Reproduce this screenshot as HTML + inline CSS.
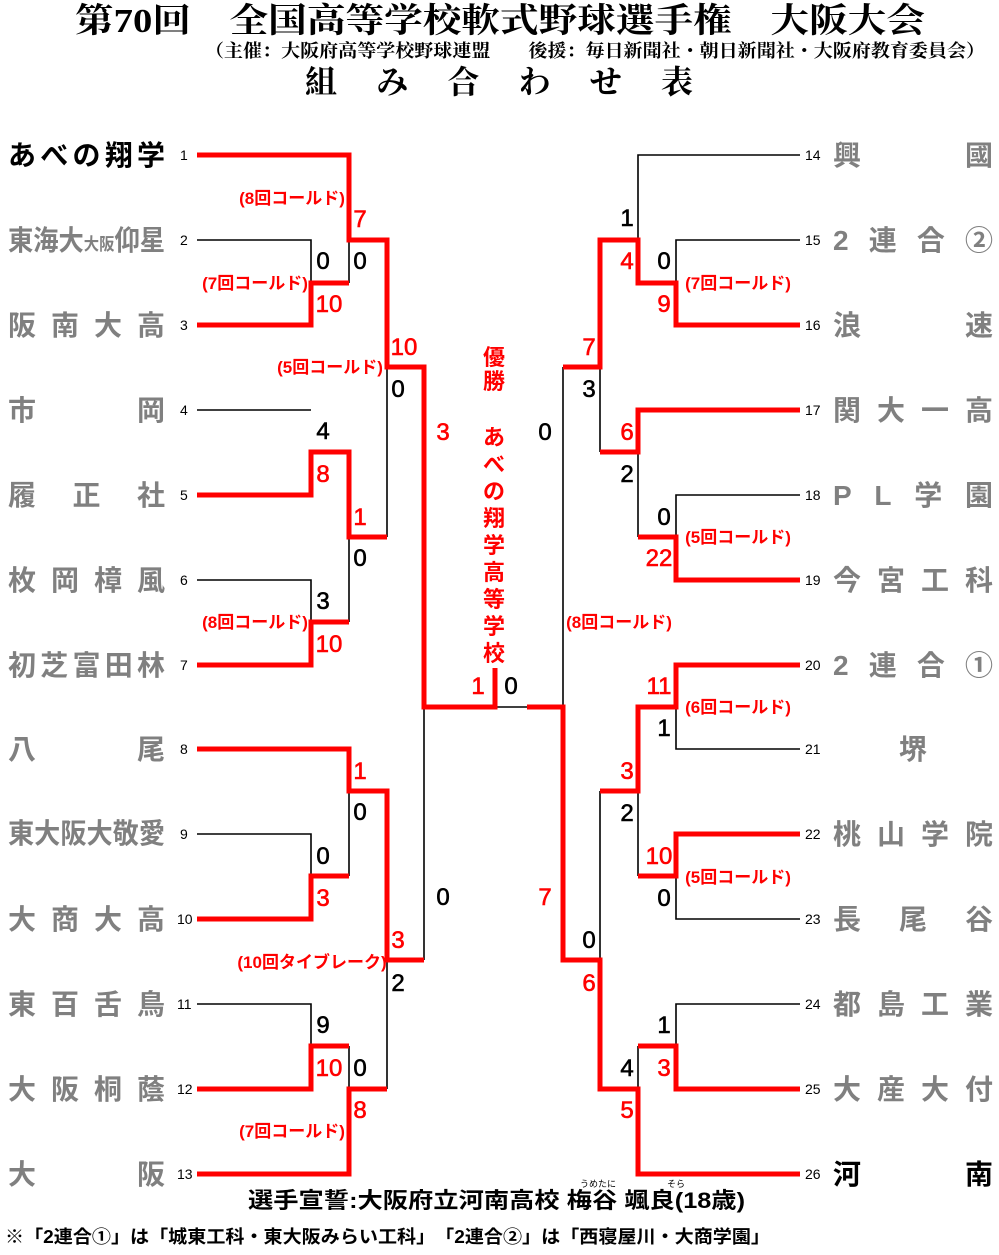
<!DOCTYPE html>
<html><head><meta charset="utf-8">
<style>
html,body{margin:0;padding:0;background:#fff;}
svg{display:block;}
.t{font-family:"Liberation Serif","Noto Serif CJK SC",serif;font-weight:bold;}
.s{font-family:"Liberation Sans","Noto Sans CJK JP",sans-serif;}
.nm{font-family:"Liberation Sans","Noto Sans CJK JP",sans-serif;font-weight:bold;font-size:28px;fill:#808080;}
.num{font-family:"Liberation Sans",sans-serif;font-size:14px;fill:#000;}
.sc{font-family:"Liberation Sans",sans-serif;font-size:24px;text-anchor:middle;stroke-width:0.6px;}
.r{fill:#f00;stroke:#f00;}
.k{fill:#000;stroke:#000;}
.cd{font-family:"Liberation Sans","Noto Sans CJK JP",sans-serif;font-weight:bold;font-size:17px;fill:#f00;text-anchor:middle;}
</style></head><body>
<svg width="999" height="1255" viewBox="0 0 999 1255" xmlns="http://www.w3.org/2000/svg">
<text class="t" x="75" y="32" font-size="34" textLength="850" lengthAdjust="spacingAndGlyphs">第70回　全国高等学校軟式野球選手権　大阪大会</text>
<text class="t" x="205" y="57" font-size="18" textLength="780" lengthAdjust="spacingAndGlyphs">（主催：大阪府高等学校野球連盟　　後援：毎日新聞社・朝日新聞社・大阪府教育委員会）</text>
<text class="t" x="305" y="93" font-size="32" textLength="388" lengthAdjust="spacing">組み合わせ表</text>

<g stroke="#000" stroke-width="1.6" fill="none">
<path d="M197 240H311V283"/>
<path d="M349 240V283"/>
<path d="M197 410H311"/>
<path d="M387 367V537"/>
<path d="M197 580H311V622"/>
<path d="M349 537V622"/>
<path d="M197 834H311V876"/>
<path d="M349 791V876"/>
<path d="M424 707V960"/>
<path d="M387 960V1089"/>
<path d="M197 1004H311V1046"/>
<path d="M349 1046V1089"/>
<path d="M495 707H527"/>
<path d="M563 367V707"/>
<path d="M800 155H638V240"/>
<path d="M800 240H676V283"/>
<path d="M600 367V452"/>
<path d="M638 452V537"/>
<path d="M800 495H676V537"/>
<path d="M800 749H676V707"/>
<path d="M600 791V960"/>
<path d="M638 791V876"/>
<path d="M800 919H676V876"/>
<path d="M800 1004H676V1046"/>
<path d="M638 1046V1089"/>
</g>
<g stroke="#f00" stroke-width="5" fill="none" stroke-linejoin="miter">
<path d="M197 155H349V240H387V367H424V707H495V668"/>
<path d="M197 325H311V283H349"/>
<path d="M197 495H311V452H349V537H387"/>
<path d="M197 665H311V622H349"/>
<path d="M197 749H349V791H387V960H424"/>
<path d="M197 919H311V876H349"/>
<path d="M197 1089H311V1046H349"/>
<path d="M197 1174H349V1089H387"/>
<path d="M527 707H563V960H600V1089H638V1174H800"/>
<path d="M800 325H676V283H638V240H600V367H563"/>
<path d="M800 410H638V452H600"/>
<path d="M800 580H676V537H638"/>
<path d="M800 665H676V707H638V791H600"/>
<path d="M800 834H676V876H638"/>
<path d="M800 1089H676V1046H638"/>
</g>

<text class="nm" x="8" y="165" style="fill:#000" textLength="157" lengthAdjust="spacing">あべの翔学</text>
<text class="nm" x="8" y="250" font-size="22" textLength="157" lengthAdjust="spacingAndGlyphs"><tspan>東海大</tspan><tspan font-size="17">大阪</tspan><tspan>仰星</tspan></text>
<text class="nm" x="8" y="335" textLength="157" lengthAdjust="spacing">阪南大高</text>
<text class="nm" x="8" y="420" textLength="157" lengthAdjust="spacing">市岡</text>
<text class="nm" x="8" y="505" textLength="157" lengthAdjust="spacing">履正社</text>
<text class="nm" x="8" y="590" textLength="157" lengthAdjust="spacing">枚岡樟風</text>
<text class="nm" x="8" y="675" textLength="157" lengthAdjust="spacing">初芝富田林</text>
<text class="nm" x="8" y="759" textLength="157" lengthAdjust="spacing">八尾</text>
<text class="nm" x="8" y="843" font-size="24" textLength="157" lengthAdjust="spacingAndGlyphs">東大阪大敬愛</text>
<text class="nm" x="8" y="929" textLength="157" lengthAdjust="spacing">大商大高</text>
<text class="nm" x="8" y="1014" textLength="157" lengthAdjust="spacing">東百舌鳥</text>
<text class="nm" x="8" y="1099" textLength="157" lengthAdjust="spacing">大阪桐蔭</text>
<text class="nm" x="8" y="1184" textLength="157" lengthAdjust="spacing">大阪</text>
<g class="num">
<text x="180" y="160">1</text><text x="180" y="245">2</text><text x="180" y="330">3</text><text x="180" y="415">4</text>
<text x="180" y="500">5</text><text x="180" y="585">6</text><text x="180" y="670">7</text><text x="180" y="754">8</text>
<text x="180" y="839">9</text><text x="177" y="924">10</text><text x="177" y="1009">11</text><text x="177" y="1094">12</text><text x="177" y="1179">13</text>
</g>
<g class="num">
<text x="805" y="160">14</text><text x="805" y="245">15</text><text x="805" y="330">16</text><text x="805" y="415">17</text>
<text x="805" y="500">18</text><text x="805" y="585">19</text><text x="805" y="670">20</text><text x="805" y="754">21</text>
<text x="805" y="839">22</text><text x="805" y="924">23</text><text x="805" y="1009">24</text><text x="805" y="1094">25</text><text x="805" y="1179">26</text>
</g>
<text class="nm" x="833" y="165" textLength="160" lengthAdjust="spacing">興國</text>
<text class="nm" x="833" y="250" textLength="160" lengthAdjust="spacing">2連合②</text>
<text class="nm" x="833" y="335" textLength="160" lengthAdjust="spacing">浪速</text>
<text class="nm" x="833" y="420" textLength="160" lengthAdjust="spacing">関大一高</text>
<text class="nm" x="833" y="505" textLength="160" lengthAdjust="spacing">PL学園</text>
<text class="nm" x="833" y="590" textLength="160" lengthAdjust="spacing">今宮工科</text>
<text class="nm" x="833" y="675" textLength="160" lengthAdjust="spacing">2連合①</text>
<text class="nm" x="913" y="759" text-anchor="middle">堺</text>
<text class="nm" x="833" y="844" textLength="160" lengthAdjust="spacing">桃山学院</text>
<text class="nm" x="833" y="929" textLength="160" lengthAdjust="spacing">長尾谷</text>
<text class="nm" x="833" y="1014" textLength="160" lengthAdjust="spacing">都島工業</text>
<text class="nm" x="833" y="1099" textLength="160" lengthAdjust="spacing">大産大付</text>
<text class="nm" x="833" y="1184" style="fill:#000" textLength="160" lengthAdjust="spacing">河南</text>

<g class="sc">
<text class="r" x="360" y="227">7</text><text class="k" x="323" y="269">0</text><text class="k" x="360" y="269">0</text><text class="r" x="329" y="312">10</text>
<text class="r" x="404" y="355">10</text><text class="k" x="398" y="397">0</text><text class="r" x="443" y="440">3</text>
<text class="k" x="323" y="439">4</text><text class="r" x="323" y="482">8</text><text class="r" x="360" y="525">1</text><text class="k" x="360" y="566">0</text>
<text class="k" x="323" y="609">3</text><text class="r" x="329" y="652">10</text>
<text class="r" x="360" y="779">1</text><text class="k" x="360" y="820">0</text><text class="k" x="323" y="864">0</text><text class="r" x="323" y="906">3</text>
<text class="r" x="398" y="948">3</text><text class="k" x="398" y="991">2</text><text class="k" x="443" y="905">0</text>
<text class="k" x="323" y="1033">9</text><text class="r" x="329" y="1076">10</text><text class="k" x="360" y="1076">0</text><text class="r" x="360" y="1118">8</text>
<text class="r" x="478" y="694">1</text><text class="k" x="511" y="694">0</text>
<text class="k" x="627" y="226">1</text><text class="r" x="627" y="269">4</text><text class="k" x="664" y="269">0</text><text class="r" x="664" y="312">9</text>
<text class="r" x="589" y="355">7</text><text class="k" x="589" y="397">3</text><text class="k" x="545" y="440">0</text>
<text class="r" x="627" y="440">6</text><text class="k" x="627" y="482">2</text><text class="k" x="664" y="525">0</text><text class="r" x="659" y="566">22</text>
<text class="r" x="659" y="694">11</text><text class="k" x="664" y="736">1</text><text class="r" x="627" y="779">3</text><text class="k" x="627" y="821">2</text>
<text class="r" x="659" y="864">10</text><text class="k" x="664" y="906">0</text><text class="r" x="545" y="905">7</text>
<text class="k" x="589" y="948">0</text><text class="r" x="589" y="991">6</text>
<text class="k" x="664" y="1033">1</text><text class="r" x="664" y="1076">3</text><text class="k" x="627" y="1076">4</text><text class="r" x="627" y="1118">5</text>
</g>

<g class="cd">
<text x="292" y="204">(8回コールド)</text>
<text x="255" y="289">(7回コールド)</text>
<text x="330" y="373">(5回コールド)</text>
<text x="255" y="628">(8回コールド)</text>
<text x="312" y="968">(10回タイブレーク)</text>
<text x="292" y="1137">(7回コールド)</text>
<text x="738" y="289">(7回コールド)</text>
<text x="738" y="543">(5回コールド)</text>
<text x="619" y="628">(8回コールド)</text>
<text x="738" y="713">(6回コールド)</text>
<text x="738" y="883">(5回コールド)</text>
</g>

<g font-family="'Liberation Sans','Noto Sans CJK JP',sans-serif" font-weight="bold" font-size="22" fill="#f00" text-anchor="middle">
<text x="494" y="365">優</text><text x="494" y="389">勝</text>
<text x="494" y="445">あ</text><text x="494" y="472">べ</text><text x="494" y="499">の</text><text x="494" y="526">翔</text>
<text x="494" y="553">学</text><text x="494" y="580">高</text><text x="494" y="607">等</text><text x="494" y="634">学</text><text x="494" y="661">校</text>
</g>

<text class="s" x="598" y="1187" font-size="9" text-anchor="middle">うめたに</text>
<text class="s" x="676" y="1187" font-size="9" text-anchor="middle">そら</text>
<text class="s" x="248" y="1208" font-size="22" font-weight="bold" textLength="497" lengthAdjust="spacingAndGlyphs">選手宣誓:大阪府立河南高校 梅谷 颯良(18歳)</text>
<text class="s" x="5" y="1243" font-size="18" font-weight="bold" textLength="765" lengthAdjust="spacingAndGlyphs">※「2連合①」は「城東工科・東大阪みらい工科」　「2連合②」は「西寝屋川・大商学園」</text>
</svg>
</body></html>
